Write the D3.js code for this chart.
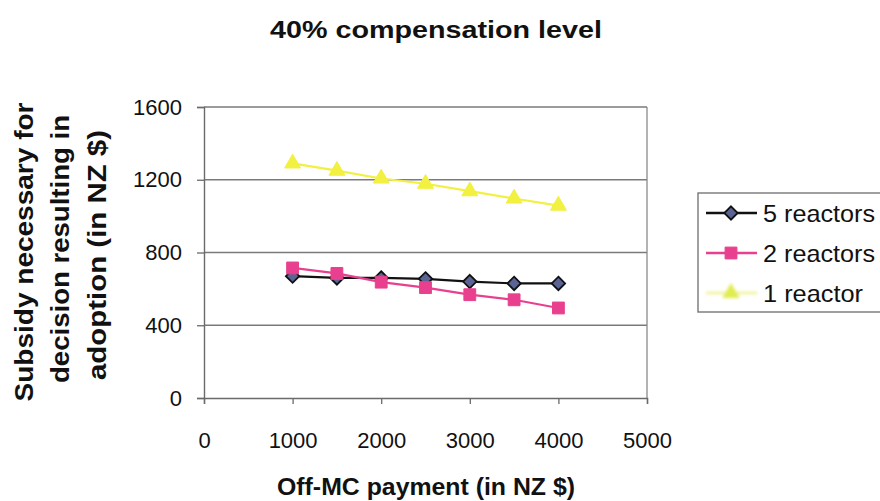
<!DOCTYPE html>
<html>
<head>
<meta charset="utf-8">
<script src="https://cdn.jsdelivr.net/npm/d3@7"></script>
<style>
  html, body { margin: 0; padding: 0; background: #fff; }
  svg { display: block; font-family: Arial, "Liberation Sans", sans-serif; }
</style>
</head>
<body>
<svg id="chart" width="880" height="501"></svg>
<script>
// Off-MC payment levels (NZ $)
const payments = [1000, 1500, 2000, 2500, 3000, 3500, 4000];
// Subsidy needed for each herd scenario (NZ $)
const fiveReactors = [670, 660, 660, 655, 640, 630, 630];
const twoReactors  = [715, 685, 637, 607, 568, 540, 495];
const oneReactor   = [1290, 1250, 1207, 1178, 1137, 1097, 1058];

const seriesNames = ["5 reactors", "2 reactors", "1 reactor"];
const xTicks = [0, 1000, 2000, 3000, 4000, 5000];
const yTicks = [0, 400, 800, 1200, 1600];

const titleText = "40% compensation level";
const xTitle = "Off-MC payment (in NZ $)";
const yTitleLines = ["Subsidy necessary for", "decision resulting in", "adoption (in NZ $)"];

// Diamond drawn as a square turned 45 degrees
const diamond = {
  draw(ctx, size) {
    const r = Math.sqrt(size / 2);
    ctx.moveTo(0, -r); ctx.lineTo(r, 0); ctx.lineTo(0, r); ctx.lineTo(-r, 0); ctx.closePath();
  }
};

const series = [
  { name: seriesNames[0], values: fiveReactors, line: "#111111", fill: "#5b6494", stroke: "#111111", shape: diamond, size: 90, sw: 1.8 },
  { name: seriesNames[1], values: twoReactors,  line: "#e8408f", fill: "#e8408f", stroke: "#e8408f", shape: d3.symbolSquare, size: 140, sw: 1 },
  { name: seriesNames[2], values: oneReactor,   line: "#f2f040", fill: "#f2f040", stroke: "#f2f040", shape: d3.symbolTriangle, size: 110, sw: 1 }
];

const svg = d3.select("#chart");
const plot = { left: 204, right: 647, top: 107, bottom: 398 };

const defs = svg.append("defs");
defs.append("filter").attr("id", "soft")
  .attr("x", "-50%").attr("y", "-50%").attr("width", "200%").attr("height", "200%")
  .append("feGaussianBlur").attr("stdDeviation", 1.6);

const x = d3.scaleLinear().domain([0, 5000]).range([plot.left, plot.right]);
const y = d3.scaleLinear().domain([0, 1600]).range([plot.bottom, plot.top]);

// Horizontal gridlines
svg.append("g")
  .selectAll("line")
  .data(yTicks.slice(1))
  .join("line")
  .attr("x1", plot.left).attr("x2", plot.right)
  .attr("y1", d => y(d)).attr("y2", d => y(d))
  .attr("stroke", "#7a7a7a").attr("stroke-width", 1.3);

// Plot frame (right edge)
svg.append("line")
  .attr("x1", plot.right).attr("x2", plot.right)
  .attr("y1", plot.top).attr("y2", plot.bottom)
  .attr("stroke", "#8a8a8a").attr("stroke-width", 1.3);

// Axes
const yAxis = d3.axisLeft(y).tickValues(yTicks).tickSize(7).tickPadding(15).tickFormat(d3.format("d"));
const xAxis = d3.axisBottom(x).tickValues(xTicks).tickSize(6).tickPadding(28).tickFormat(d3.format("d"));

const gy = svg.append("g").attr("transform", `translate(${plot.left},0)`).call(yAxis);
const gx = svg.append("g").attr("transform", `translate(0,${plot.bottom})`).call(xAxis);

[gx, gy].forEach(g => {
  g.select(".domain").attr("stroke", "#6a6a6a").attr("stroke-width", 1.4);
  g.selectAll(".tick line").attr("stroke", "#6a6a6a").attr("stroke-width", 1.3);
  g.selectAll(".tick text")
    .attr("fill", "#111")
    .style("font-size", "22px")
    .style("font-family", "Arial, 'Liberation Sans', sans-serif");
});

// Lines and markers
const line = d3.line().x((d, i) => x(payments[i])).y(d => y(d));

series.forEach(s => {
  svg.append("path")
    .datum(s.values)
    .attr("d", line)
    .attr("fill", "none")
    .attr("stroke", s.line)
    .attr("stroke-width", 2.2);
});

series.forEach(s => {
  const sym = d3.symbol().type(s.shape).size(s.size);
  svg.append("g")
    .selectAll("path")
    .data(s.values)
    .join("path")
    .attr("d", sym)
    .attr("transform", (d, i) => `translate(${x(payments[i])},${y(d)})`)
    .attr("fill", s.fill)
    .attr("stroke", s.stroke)
    .attr("stroke-width", s.sw);
});

// Title
svg.append("text")
  .attr("x", 436).attr("y", 38)
  .attr("text-anchor", "middle")
  .attr("font-weight", "bold")
  .attr("font-size", 24)
  .attr("textLength", 332).attr("lengthAdjust", "spacingAndGlyphs")
  .attr("fill", "#111")
  .text(titleText);

// X axis title
svg.append("text")
  .attr("x", 426).attr("y", 495)
  .attr("text-anchor", "middle")
  .attr("font-weight", "bold")
  .attr("font-size", 24)
  .attr("textLength", 298).attr("lengthAdjust", "spacingAndGlyphs")
  .attr("fill", "#111")
  .text(xTitle);

// Y axis title (three stacked lines, rotated)
const yTitleX = [33, 69, 106];
const yTitleY = [252, 249, 255];
const yTitleLen = [299, 268, 250];
yTitleLines.forEach((t, i) => {
  svg.append("text")
    .attr("transform", `translate(${yTitleX[i]},${yTitleY[i]}) rotate(-90)`)
    .attr("text-anchor", "middle")
    .attr("font-weight", "bold")
    .attr("font-size", 25)
    .attr("textLength", yTitleLen[i]).attr("lengthAdjust", "spacingAndGlyphs")
    .attr("fill", "#111")
    .text(t);
});

// Legend
const legend = svg.append("g");
legend.append("rect")
  .attr("x", 698).attr("y", 193)
  .attr("width", 190).attr("height", 119)
  .attr("fill", "#fff")
  .attr("stroke", "#777").attr("stroke-width", 1.4);

const legendRows = [213, 253, 293];
const legendLen = [112, 112, 100];
series.forEach((s, i) => {
  const row = legend.append("g").attr("transform", `translate(0,${legendRows[i]})`);
  const faded = i === 2;
  const key = row.append("g").attr("filter", faded ? "url(#soft)" : null);
  key.append("line")
    .attr("x1", 706).attr("x2", 757)
    .attr("stroke", faded ? "#eef290" : s.line)
    .attr("stroke-width", 2.4);
  key.append("path")
    .attr("d", d3.symbol().type(s.shape).size(s.size)())
    .attr("transform", "translate(731,0)")
    .attr("fill", faded ? "#e0ec50" : s.fill)
    .attr("stroke", faded ? "#e0ec50" : s.stroke)
    .attr("stroke-width", s.sw);
  row.append("text")
    .attr("x", 763).attr("y", 0)
    .attr("dy", "0.36em")
    .attr("font-size", 24)
    .attr("textLength", legendLen[i]).attr("lengthAdjust", "spacingAndGlyphs")
    .attr("fill", "#111")
    .text(s.name);
});
</script>
</body>
</html>
